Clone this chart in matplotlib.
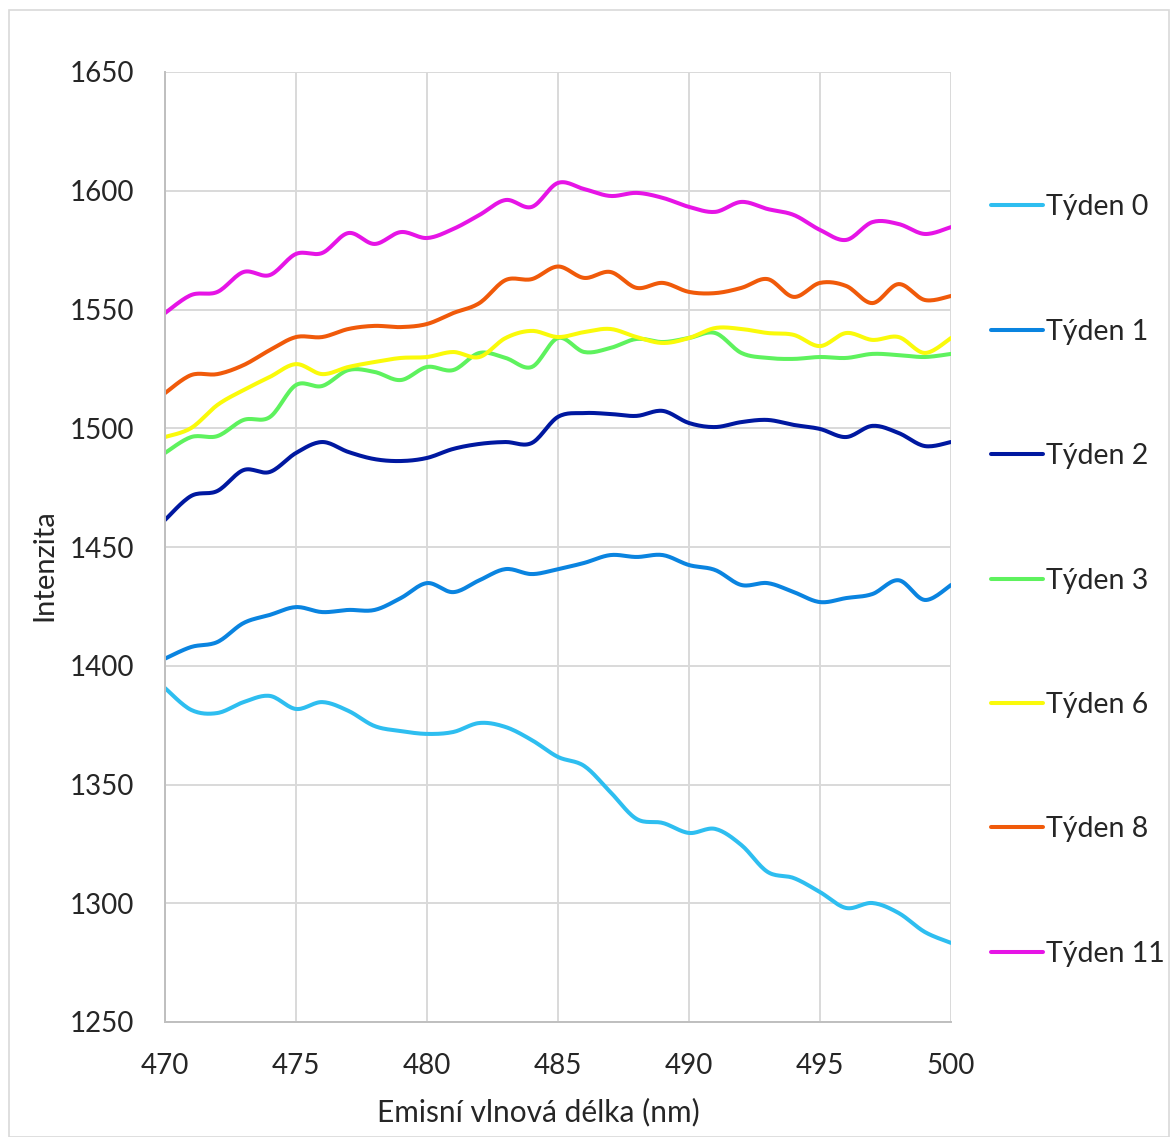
import numpy as np
import matplotlib
matplotlib.use('Agg')
import matplotlib.pyplot as plt
from matplotlib.patches import Rectangle

plt.rcParams['font.family'] = ['Lato', 'DejaVu Sans']

# Data (1 nm steps)
wavelength = np.arange(470, 501)

tyden0 = [1390.6, 1381.4, 1380.1, 1384.7, 1387.3, 1381.8, 1384.7, 1381.0, 1374.6, 1372.5,
          1371.3, 1372.1, 1375.9, 1374.2, 1368.7, 1361.6, 1357.8, 1346.8, 1335.5, 1333.8,
          1329.6, 1331.3, 1324.5, 1313.2, 1310.6, 1304.7, 1298.0, 1300.1, 1295.9, 1287.9, 1283.3]
tyden1 = [1403.0, 1407.9, 1410.0, 1418.0, 1421.4, 1424.7, 1422.6, 1423.5, 1423.5, 1428.5,
          1434.8, 1431.0, 1436.0, 1440.7, 1438.6, 1440.7, 1443.3, 1446.6, 1445.8, 1446.6,
          1442.4, 1440.3, 1434.0, 1434.8, 1431.0, 1426.8, 1428.5, 1430.2, 1436.0, 1427.7, 1434.0]
tyden2 = [1461.4, 1471.5, 1473.6, 1482.4, 1481.6, 1489.6, 1494.2, 1490.0, 1487.0, 1486.2,
          1487.5, 1491.3, 1493.4, 1494.2, 1493.8, 1504.8, 1506.4, 1506.0, 1505.2, 1507.3,
          1502.2, 1500.5, 1502.6, 1503.5, 1501.4, 1499.7, 1496.3, 1501.0, 1498.0, 1492.5, 1494.2]
tyden3 = [1489.6, 1496.3, 1496.7, 1503.5, 1504.7, 1518.2, 1517.8, 1524.5, 1523.7, 1520.3,
          1525.8, 1524.5, 1531.7, 1529.6, 1525.8, 1538.0, 1532.1, 1533.8, 1537.6, 1536.3,
          1538.0, 1540.1, 1531.7, 1529.6, 1529.2, 1530.0, 1529.6, 1531.3, 1530.8, 1530.0, 1531.3]
tyden6 = [1496.3, 1500.1, 1509.8, 1516.1, 1521.6, 1527.0, 1522.8, 1525.8, 1527.9, 1529.6,
          1530.0, 1532.1, 1530.0, 1538.0, 1541.0, 1538.4, 1540.5, 1541.8, 1538.4, 1535.9,
          1538.0, 1542.2, 1541.8, 1540.1, 1539.3, 1534.6, 1540.1, 1537.2, 1538.4, 1531.7, 1538.0]
tyden8 = [1514.8, 1522.4, 1522.8, 1526.6, 1532.9, 1538.4, 1538.4, 1541.8, 1543.1, 1542.6,
          1543.9, 1548.5, 1552.7, 1562.4, 1562.8, 1568.1, 1563.3, 1565.8, 1559.1, 1561.2,
          1557.4, 1556.9, 1559.1, 1562.8, 1555.3, 1561.2, 1559.9, 1552.7, 1560.7, 1554.0, 1555.7]
tyden11 = [1548.5, 1556.1, 1557.4, 1565.8, 1564.5, 1573.4, 1573.8, 1582.2, 1577.6, 1582.6,
           1580.1, 1583.9, 1589.8, 1596.1, 1593.2, 1603.3, 1600.7, 1597.8, 1599.1, 1597.0,
           1593.2, 1591.1, 1595.3, 1592.3, 1589.8, 1583.5, 1579.3, 1586.8, 1586.0, 1581.8, 1584.7]

labels = ['Týden 0', 'Týden 1', 'Týden 2', 'Týden 3', 'Týden 6', 'Týden 8', 'Týden 11']
colors = ['#2EBEF0', '#0A84E0', '#0018A0', '#5EF25E', '#FAFA0A', '#F05A0A', '#E614E6']
series = [tyden0, tyden1, tyden2, tyden3, tyden6, tyden8, tyden11]


def smooth(x, y, n=16):
    # Excel-style smoothed line: cubic Bezier segments, Catmull-Rom tangents
    x = np.asarray(x, float)
    y = np.asarray(y, float)
    xs, ys = [], []
    t = np.linspace(0, 1, n, endpoint=False)
    for i in range(len(x) - 1):
        i0 = max(i - 1, 0)
        i3 = min(i + 2, len(x) - 1)
        p0 = np.array([x[i], y[i]])
        p3 = np.array([x[i + 1], y[i + 1]])
        c1 = p0 + (np.array([x[i + 1], y[i + 1]]) - np.array([x[i0], y[i0]])) / 6
        c2 = p3 - (np.array([x[i3], y[i3]]) - np.array([x[i], y[i]])) / 6
        b = ((1 - t) ** 3)[:, None] * p0 + (3 * (1 - t) ** 2 * t)[:, None] * c1 \
            + (3 * (1 - t) * t ** 2)[:, None] * c2 + (t ** 3)[:, None] * p3
        xs.extend(b[:, 0])
        ys.extend(b[:, 1])
    xs.append(x[-1])
    ys.append(y[-1])
    return xs, ys


fig = plt.figure(figsize=(11.70, 11.37), dpi=100)
ax = fig.add_axes([165 / 1170, 1 - 1022 / 1137, (951 - 165) / 1170, (1022 - 72) / 1137])

for vals, lab, col in zip(series, labels, colors):
    sx, sy = smooth(wavelength, vals)
    ax.plot(sx, sy, color=col, lw=2.9, label=lab, solid_capstyle='round')

text_col = '#262626'
ax.set_xlim(470, 500)
ax.set_ylim(1250, 1650)
ax.set_xticks(np.arange(470, 501, 5))
ax.set_yticks(np.arange(1250, 1651, 50))
ax.grid(True, color='#D9D9D9', lw=1.4)
ax.set_axisbelow(True)
for s in ['top', 'right']:
    ax.spines[s].set_visible(False)
for s in ['left', 'bottom']:
    ax.spines[s].set_color('#BFBFBF')
    ax.spines[s].set_linewidth(1.4)
ax.tick_params(length=0, labelsize=20, colors=text_col)
ax.tick_params(axis='y', pad=22)
ax.tick_params(axis='x', pad=22)
ax.set_xlabel('Emisní vlnová délka (nm)', fontsize=21.5, color=text_col, labelpad=14, x=0.475)
ax.set_ylabel('Intenzita', fontsize=21, color=text_col, labelpad=9, y=0.481)

fig.legend(loc='upper left', bbox_to_anchor=(980 / 1170, 1 - 183 / 1137), frameon=False,
           fontsize=20.5, labelspacing=3.455, handlelength=1.8, handletextpad=0.12,
           borderaxespad=0, labelcolor=text_col)

fig.patches.append(Rectangle((9 / 1170, 0), 1 - 10 / 1170, 1 - 10 / 1137,
                             transform=fig.transFigure, fill=False, ec='#D9D9D9', lw=1.2))

fig.savefig('out.png', dpi=100)
